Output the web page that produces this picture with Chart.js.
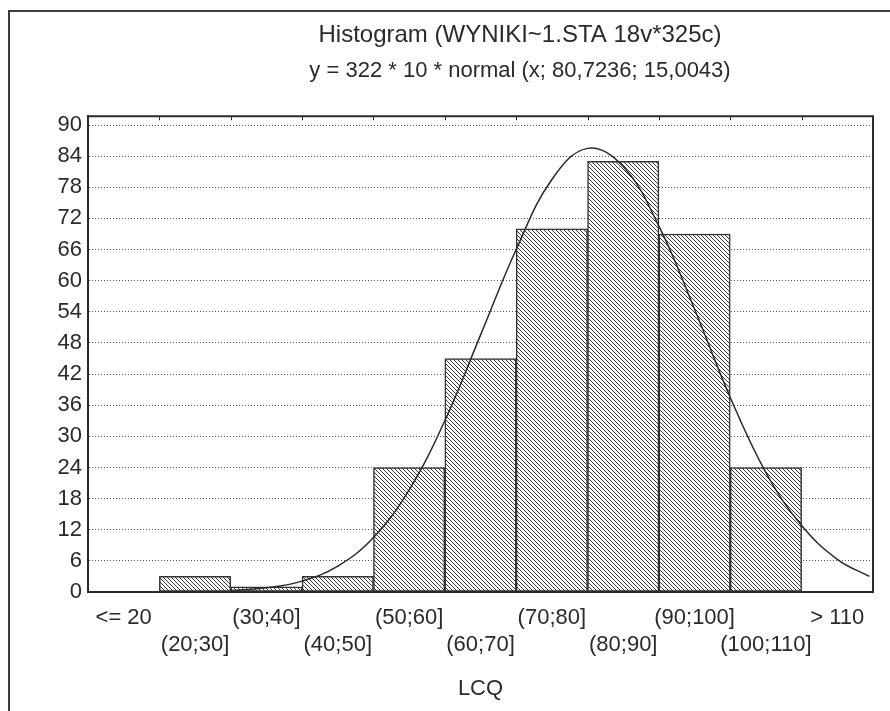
<!DOCTYPE html>
<html>
<head>
<meta charset="utf-8">
<script src="https://cdn.jsdelivr.net/npm/chart.js@4.4.1/dist/chart.umd.min.js"></script>
<style>
  html, body { margin: 0; padding: 0; background: #fff; overflow: hidden; width: 890px; height: 711px; }
  #frame { position: absolute; left: 8px; top: 10px; width: 1020px; height: 740px; border: 2px solid #3c3c3c; }
  canvas { display: block; }
</style>
</head>
<body>
<div id="frame"><canvas id="c" width="1020" height="740"></canvas></div>
<script>
// histogram classes and counts (sum = 322)
const categories = ['<= 20', '(20;30]', '(30;40]', '(40;50]', '(50;60]', '(60;70]',
                    '(70;80]', '(80;90]', '(90;100]', '(100;110]', '> 110'];
const counts = [0, 3, 1, 3, 24, 45, 70, 83, 69, 24, 0];

// fitted normal curve (x in LCQ units, y in counts)
const curveX = [30, 35, 40, 45, 50, 55, 60, 65, 70, 75, 80, 85, 90, 95, 100, 105, 110, 115, 119.5];
const curveY = [0.3, 0.8, 2.1, 5.0, 10.5, 19.7, 33, 49.5, 66, 79.5, 85.5, 82, 70.5, 54.5, 37.5, 23, 12.8, 6.3, 3.0];

const yTicks = [0, 6, 12, 18, 24, 30, 36, 42, 48, 54, 60, 66, 72, 78, 84, 90];

const INK = '#2a2a2a';
const FONT = "'Liberation Sans', Arial, sans-serif";

// diagonal "\\\" hatch used for the bars
function hatch() {
  const t = document.createElement('canvas');
  t.width = 4; t.height = 4;
  const g = t.getContext('2d');
  g.fillStyle = '#fff';
  g.fillRect(0, 0, 4, 4);
  g.strokeStyle = '#3a3a3a';
  g.lineWidth = 1;
  g.beginPath();
  g.moveTo(-1, -1); g.lineTo(5, 5);
  g.moveTo(-1, 3); g.lineTo(1, 5);
  g.moveTo(3, -1); g.lineTo(5, 1);
  g.stroke();
  return g.createPattern(t, 'repeat');
}

// frame on top/right of the plot plus small inward ticks at class boundaries
const plotFrame = {
  id: 'plotFrame',
  afterDatasetsDraw(chart) {
    const { ctx, chartArea: a, scales } = chart;
    const xs = scales.x;
    ctx.save();
    ctx.strokeStyle = INK;
    ctx.lineWidth = 2;
    ctx.beginPath();
    ctx.moveTo(a.left, a.top); ctx.lineTo(a.right, a.top); ctx.lineTo(a.right, a.bottom);
    ctx.stroke();
    ctx.lineWidth = 1;
    ctx.beginPath();
    for (let i = 1; i < categories.length; i++) {
      const px = Math.round((xs.getPixelForValue(i - 1) + xs.getPixelForValue(i)) / 2) + 0.5;
      ctx.moveTo(px, a.top);
      ctx.lineTo(px, a.top + 4);
    }
    ctx.stroke();
    ctx.restore();
  }
};

new Chart(document.getElementById('c'), {
  type: 'bar',
  data: {
    labels: categories,
    datasets: [
      {
        data: counts,
        backgroundColor: hatch(),
        borderColor: '#333',
        borderWidth: 1.5,
        borderSkipped: false,
        barPercentage: 1,
        categoryPercentage: 1,
        grouped: false,
        order: 1,
      },
      {
        type: 'line',
        data: curveX.map((x, i) => ({ x, y: curveY[i] })),
        xAxisID: 'xl',
        borderColor: INK,
        borderWidth: 1.5,
        pointRadius: 0,
        tension: 0.4,
        fill: false,
        order: 0,
      },
    ],
  },
  options: {
    responsive: false,
    animation: false,
    layout: { padding: { left: 0, right: 0, top: 0, bottom: 50 } },
    plugins: {
      legend: { display: false },
      tooltip: { enabled: false },
      title: {
        display: true,
        text: 'Histogram (WYNIKI~1.STA 18v*325c)',
        color: INK,
        font: { family: FONT, size: 24, weight: 'normal', lineHeight: 1.2 },
        padding: { top: 9, bottom: 0 },
      },
      subtitle: {
        display: true,
        text: 'y = 322 * 10 * normal (x; 80,7236; 15,0043)',
        color: INK,
        font: { family: FONT, size: 22, weight: 'normal', lineHeight: 1.2 },
        padding: { top: 8, bottom: 32 },
      },
    },
    scales: {
      x: {
        type: 'category',
        offset: true,
        grid: { display: false },
        border: { display: true, color: INK, width: 2 },
        ticks: {
          autoSkip: false,
          maxRotation: 0,
          padding: 4,
          color: INK,
          font: { family: FONT, size: 22, lineHeight: 1.23 },
          callback: (v, i) => (i % 2 === 0 ? [categories[i], ''] : ['', categories[i]]),
        },
        title: {
          display: true,
          text: 'LCQ',
          color: INK,
          font: { family: FONT, size: 22, lineHeight: 1.2 },
          padding: { top: 0, bottom: 0 },
        },
        afterFit: s => { s.height = 110; },
      },
      xl: {
        type: 'linear',
        display: false,
        offset: false,
        min: 10,
        max: 120,
      },
      y: {
        min: 0,
        max: 91.7,
        grid: { color: '#555', lineWidth: 1, drawTicks: false },
        border: { display: true, color: INK, width: 2, dash: [1, 2] },
        ticks: {
          padding: 6,
          color: INK,
          font: { family: FONT, size: 22 },
        },
        afterBuildTicks: s => { s.ticks = yTicks.map(v => ({ value: v })); },
        afterFit: s => { s.width = 78; },
      },
      // empty right-hand axis only reserves the blank strip right of the plot
      yr: {
        type: 'linear',
        position: 'right',
        grid: { display: false },
        border: { display: false },
        ticks: { display: false },
        afterFit: s => { s.width = 157; },
      },
    },
  },
  plugins: [plotFrame],
});
</script>
</body>
</html>
